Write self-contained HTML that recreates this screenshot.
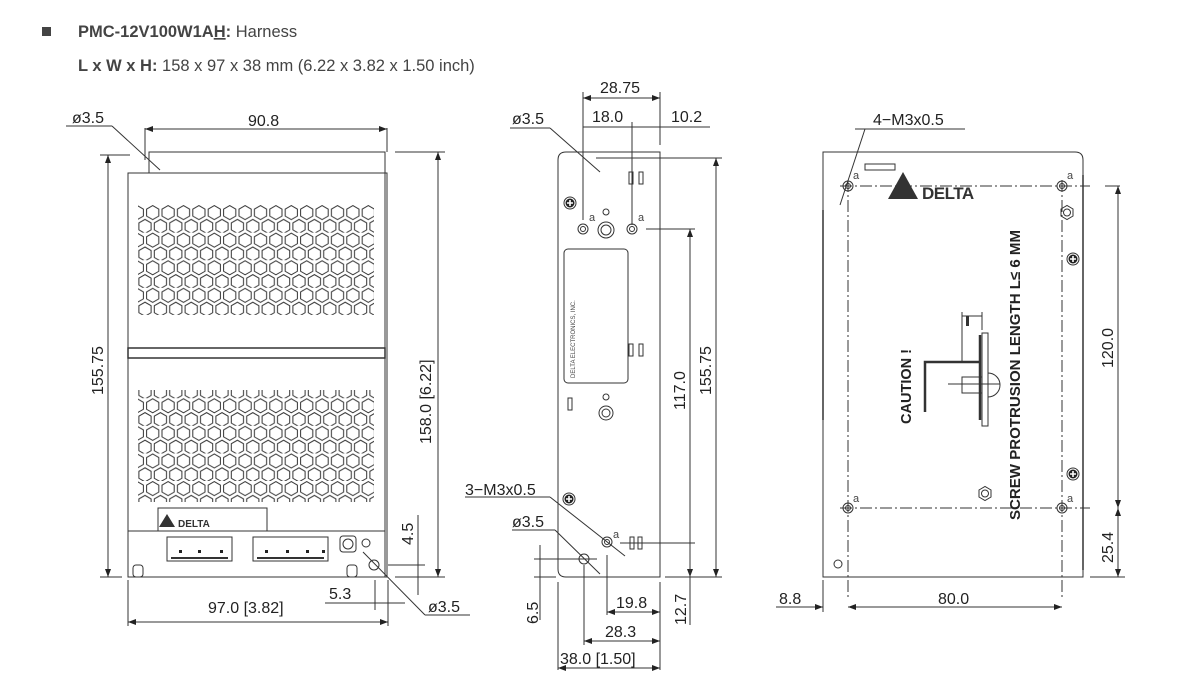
<!DOCTYPE html>
<html><head><meta charset="utf-8">
<style>
html,body{margin:0;padding:0;background:#fff;}
svg{display:block;font-family:"Liberation Sans",sans-serif;}
.d{font-size:16px;fill:#222;}
</style></head><body>
<svg width="1195" height="694" viewBox="0 0 1195 694" xmlns="http://www.w3.org/2000/svg">
<defs>
<pattern id="hx" patternUnits="userSpaceOnUse" x="145" y="205" width="15.4" height="27.6">
 <g fill="none" stroke="#333" stroke-width="1">
  <path d="M7.7,0.6 L13.8,4.1 L13.8,11.1 L7.7,14.6 L1.6,11.1 L1.6,4.1Z"/>
  <path d="M0,14.4 L6.1,17.9 L6.1,24.9 L0,28.4 L-6.1,24.9 L-6.1,17.9Z"/>
  <path d="M15.4,14.4 L21.5,17.9 L21.5,24.9 L15.4,28.4 L9.3,24.9 L9.3,17.9Z"/>
 </g>
</pattern>
<marker id="ar" markerWidth="8" markerHeight="6" refX="8" refY="3" orient="auto-start-reverse" markerUnits="userSpaceOnUse"><path d="M0,0 L8,3 L0,6Z" fill="#222"/></marker>
</defs>

<!-- header -->
<rect x="42" y="27" width="9" height="9" fill="#444"/>
<text x="78" y="37" font-size="16.5" fill="#444"><tspan font-weight="bold">PMC-12V100W1A<tspan text-decoration="underline">H</tspan>:</tspan> Harness</text>
<text x="78" y="71" font-size="16.5" fill="#444"><tspan font-weight="bold">L x W x H:</tspan> 158 x 97 x 38 mm (6.22 x 3.82 x 1.50 inch)</text>

<g stroke="#333" fill="none" stroke-width="1">
<!-- LEFT VIEW -->
<rect x="149" y="152" width="236" height="21"/>
<rect x="128" y="173" width="259" height="404"/>
<line x1="385" y1="152" x2="385" y2="577"/>
<rect x="128" y="348" width="257" height="10" stroke-width="1.5"/>
<rect x="138" y="205" width="236" height="110" fill="url(#hx)" stroke="none"/>
<rect x="138" y="390" width="236" height="112" fill="url(#hx)" stroke="none"/>
<rect x="158" y="508" width="109" height="23"/>
<rect x="128" y="531" width="257" height="46"/>
<rect x="167" y="537" width="65" height="24"/>
<line x1="171" y1="558" x2="228" y2="558" stroke-width="2"/>
<rect x="253" y="537" width="75" height="24"/>
<line x1="257" y1="558" x2="324" y2="558" stroke-width="2"/>
<rect x="340" y="536" width="16" height="16" rx="3"/>
<circle cx="348" cy="544" r="5"/><circle cx="366" cy="543" r="4"/>
<rect x="133" y="565" width="10" height="12" rx="3"/>
<rect x="347" y="565" width="10" height="12" rx="3"/>
<circle cx="374" cy="565" r="5"/>
<!-- left dims -->
<line x1="66" y1="126" x2="112" y2="126"/><line x1="112" y1="126" x2="160" y2="170"/>
<line x1="145" y1="128" x2="145" y2="160"/>
<line x1="145" y1="129" x2="387" y2="129" marker-start="url(#ar)" marker-end="url(#ar)"/>
<line x1="387" y1="128" x2="387" y2="152"/>
<line x1="100" y1="155" x2="130" y2="155"/><line x1="100" y1="577" x2="122" y2="577"/>
<line x1="108" y1="155" x2="108" y2="577" marker-start="url(#ar)" marker-end="url(#ar)"/>
<line x1="395" y1="152" x2="445" y2="152"/><line x1="395" y1="577" x2="445" y2="577"/>
<line x1="438" y1="152" x2="438" y2="577" marker-start="url(#ar)" marker-end="url(#ar)"/>
<line x1="388" y1="565" x2="425" y2="565"/>
<line x1="418" y1="515" x2="418" y2="595"/>
<line x1="128" y1="580" x2="128" y2="626"/><line x1="388" y1="580" x2="388" y2="626"/>
<line x1="128" y1="622" x2="388" y2="622" marker-start="url(#ar)" marker-end="url(#ar)"/>
<line x1="375" y1="580" x2="375" y2="610"/>
<line x1="325" y1="603" x2="405" y2="603"/>
<line x1="363" y1="552" x2="425" y2="615"/><line x1="425" y1="615" x2="470" y2="615"/>

<!-- MIDDLE VIEW -->
<path d="M566,152 L660,152 L660,577 L566,577 Q558,577 558,569 L558,160 Q558,152 566,152Z"/>
<rect x="564" y="249" width="64" height="134" rx="4"/>
<circle cx="570" cy="203" r="6"/><circle cx="569" cy="499" r="6"/>
<circle cx="606" cy="230" r="8"/><circle cx="606" cy="230" r="5"/>
<circle cx="606" cy="212" r="3"/>
<circle cx="583" cy="229" r="5"/><circle cx="583" cy="229" r="2.5"/>
<circle cx="632" cy="229" r="5"/><circle cx="632" cy="229" r="2.5"/>
<circle cx="606" cy="413" r="7"/><circle cx="606" cy="413" r="4"/><circle cx="606" cy="397" r="3"/>
<circle cx="607" cy="542" r="5"/><circle cx="607" cy="542" r="2.5"/>
<circle cx="584" cy="559" r="5"/>
<rect x="629" y="172" width="4" height="12"/><rect x="639" y="172" width="4" height="12"/>
<rect x="629" y="344" width="4" height="12"/><rect x="639" y="344" width="4" height="12"/>
<rect x="568" y="398" width="4" height="12"/>
<rect x="630" y="537" width="4" height="12"/><rect x="638" y="537" width="4" height="12"/>
<line x1="583" y1="92" x2="583" y2="220"/><line x1="660" y1="92" x2="660" y2="145"/>
<line x1="583" y1="98" x2="660" y2="98" marker-start="url(#ar)" marker-end="url(#ar)"/>
<line x1="583" y1="127" x2="710" y2="127"/>
<line x1="632" y1="122" x2="632" y2="225"/>
<line x1="510" y1="128" x2="550" y2="128"/><line x1="550" y1="128" x2="600" y2="172"/>
<line x1="596" y1="158" x2="722" y2="158"/>
<line x1="716" y1="158" x2="716" y2="577" marker-start="url(#ar)" marker-end="url(#ar)"/>
<line x1="646" y1="229" x2="695" y2="229"/>
<line x1="690" y1="229" x2="690" y2="577" marker-start="url(#ar)" marker-end="url(#ar)"/>
<line x1="665" y1="577" x2="722" y2="577"/>
<line x1="620" y1="543" x2="695" y2="543"/>
<line x1="690" y1="555" x2="690" y2="625"/>
<line x1="465" y1="497" x2="550" y2="497"/><line x1="550" y1="497" x2="625" y2="556"/>
<line x1="512" y1="530" x2="555" y2="530"/><line x1="555" y1="530" x2="600" y2="574"/>
<line x1="534" y1="559" x2="597" y2="559"/><line x1="534" y1="577" x2="556" y2="577"/>
<line x1="540" y1="545" x2="540" y2="620"/>
<line x1="607" y1="555" x2="607" y2="615"/><line x1="584" y1="565" x2="584" y2="645"/>
<line x1="660" y1="582" x2="660" y2="670"/><line x1="558" y1="582" x2="558" y2="670"/>
<line x1="607" y1="612" x2="660" y2="612" marker-start="url(#ar)" marker-end="url(#ar)"/>
<line x1="584" y1="641" x2="660" y2="641" marker-start="url(#ar)" marker-end="url(#ar)"/>
<line x1="558" y1="668" x2="660" y2="668" marker-start="url(#ar)" marker-end="url(#ar)"/>

<!-- RIGHT VIEW -->
<path d="M823,152 L1075,152 Q1083,152 1083,160 L1083,577 L823,577Z"/>
<line x1="1083" y1="175" x2="1083" y2="570" stroke-width="1.5"/>
<line x1="823" y1="210" x2="823" y2="420" stroke-width="1.5"/>
<rect x="865" y="164" width="30" height="6"/>
<g stroke-dasharray="12,3,2,3">
<line x1="840" y1="186" x2="1090" y2="186"/><line x1="840" y1="508" x2="1090" y2="508"/>
<line x1="848" y1="180" x2="848" y2="600"/><line x1="1062" y1="180" x2="1062" y2="600"/>
</g>
<circle cx="848" cy="186" r="5"/><circle cx="848" cy="186" r="2.5"/>
<circle cx="1062" cy="186" r="5"/><circle cx="1062" cy="186" r="2.5"/>
<circle cx="848" cy="508" r="5"/><circle cx="848" cy="508" r="2.5"/>
<circle cx="1062" cy="508" r="5"/><circle cx="1062" cy="508" r="2.5"/>
<path d="M1061,209 l6,-3.5 l6,3.5 l0,7 l-6,3.5 l-6,-3.5Z"/><circle cx="1067" cy="212.5" r="3.5"/>
<path d="M979,490 l6,-3.5 l6,3.5 l0,7 l-6,3.5 l-6,-3.5Z"/><circle cx="985" cy="493.5" r="3.5"/>
<circle cx="1073" cy="259" r="6"/><circle cx="1073" cy="474" r="6"/>
<circle cx="838" cy="564" r="4"/>
<line x1="1105" y1="186" x2="1120" y2="186"/><line x1="1090" y1="577" x2="1125" y2="577"/>
<line x1="1118" y1="186" x2="1118" y2="508" marker-start="url(#ar)" marker-end="url(#ar)"/>
<line x1="1118" y1="508" x2="1118" y2="577" marker-start="url(#ar)" marker-end="url(#ar)"/>
<line x1="855" y1="129" x2="965" y2="129"/><line x1="865" y1="129" x2="840" y2="205"/>
<line x1="823" y1="580" x2="823" y2="612"/>
<line x1="776" y1="607" x2="823" y2="607" marker-end="url(#ar)"/>
<line x1="848" y1="607" x2="1062" y2="607" marker-start="url(#ar)" marker-end="url(#ar)"/>
<!-- caution graphic -->
<path d="M925,412 L925,362 L980,362" stroke-width="2.5"/>
<path d="M980,335 L980,420" stroke-width="2.5"/><rect x="982" y="333" width="6" height="93"/>
<rect x="962" y="377" width="20" height="16"/>
<path d="M988,373 A12,12 0 0 1 988,397"/>
<line x1="948" y1="384" x2="1000" y2="384"/>
<path d="M962,362 L962,312 M982,312 L982,330 M962,316 L982,316"/>
</g>
<g fill="#222" font-size="11" font-weight="bold" text-anchor="middle">
<circle cx="570" cy="203" r="4.5"/><circle cx="569" cy="499" r="4.5"/>
<circle cx="1073" cy="259" r="4.5"/><circle cx="1073" cy="474" r="4.5"/>
</g>
<g stroke="#fff" stroke-width="1.6">
<path d="M567,203 h6 M570,200 v6 M566,499 h6 M569,496 v6 M1070,259 h6 M1073,256 v6 M1070,474 h6 M1073,471 v6"/>
</g>
<g fill="#222">
<rect x="179" y="550" width="3" height="3"/><rect x="198" y="550" width="3" height="3"/><rect x="220" y="550" width="3" height="3"/>
<rect x="265" y="550" width="3" height="3"/><rect x="286" y="550" width="3" height="3"/><rect x="306" y="550" width="3" height="3"/><rect x="322" y="550" width="3" height="3"/>
</g>
<rect x="966" y="316" width="3" height="10" fill="#333"/>
<!-- logos -->
<path d="M159,527 l8,-13 l8,13Z" fill="#333"/>
<text x="178" y="527" font-size="10" font-weight="bold" fill="#333">DELTA</text>
<path d="M888,199 l15,-27 l15,27Z" fill="#333"/>
<text x="922" y="199" font-size="17" font-weight="bold" fill="#333" letter-spacing="-0.5">DELTA</text>
<text transform="translate(575,378) rotate(-90)" font-size="6" fill="#444">DELTA  ELECTRONICS,  INC.</text>

<!-- dimension texts -->
<g class="d">
<text x="72" y="123">ø3.5</text>
<text x="248" y="126">90.8</text>
<text transform="translate(103,395) rotate(-90)">155.75</text>
<text transform="translate(431,444) rotate(-90)">158.0 [6.22]</text>
<text transform="translate(413,545) rotate(-90)">4.5</text>
<text x="329" y="599">5.3</text>
<text x="208" y="613">97.0 [3.82]</text>
<text x="428" y="612">ø3.5</text>
<text x="600" y="93">28.75</text>
<text x="592" y="122">18.0</text>
<text x="671" y="122">10.2</text>
<text x="512" y="124">ø3.5</text>
<text transform="translate(685,410) rotate(-90)">117.0</text>
<text transform="translate(711,395) rotate(-90)">155.75</text>
<text x="465" y="495">3−M3x0.5</text>
<text x="512" y="527">ø3.5</text>
<text transform="translate(538,624) rotate(-90)">6.5</text>
<text x="616" y="608">19.8</text>
<text x="605" y="637">28.3</text>
<text x="560" y="664">38.0 [1.50]</text>
<text transform="translate(686,625) rotate(-90)">12.7</text>
<text x="873" y="125">4−M3x0.5</text>
<text transform="translate(1113,368) rotate(-90)">120.0</text>
<text transform="translate(1113,563) rotate(-90)">25.4</text>
<text x="779" y="604">8.8</text>
<text x="938" y="604">80.0</text>
</g>
<g font-size="11" fill="#444">
<text x="589" y="221">a</text><text x="638" y="221">a</text><text x="613" y="538">a</text>
<text x="853" y="179">a</text><text x="1067" y="179">a</text><text x="853" y="502">a</text><text x="1067" y="502">a</text>
</g>
<text transform="translate(1020,520) rotate(-90)" font-size="15" font-weight="bold" fill="#222" textLength="290" lengthAdjust="spacingAndGlyphs">SCREW PROTRUSION LENGTH  L≤ 6 MM</text>
<text transform="translate(911,424) rotate(-90)" font-size="15" font-weight="bold" fill="#222" textLength="75" lengthAdjust="spacingAndGlyphs">CAUTION !</text>
</svg>
</body></html>
